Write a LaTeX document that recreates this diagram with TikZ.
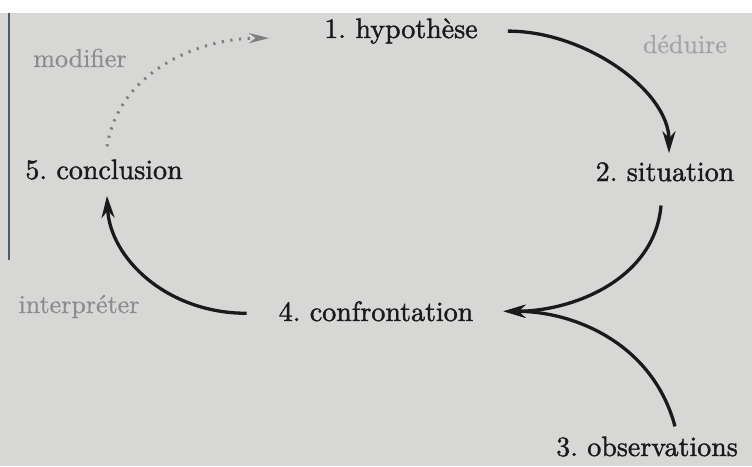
\documentclass[tikz,border=0pt]{standalone}
\usepackage{fontspec}
\usetikzlibrary{arrows.meta}
\newfontfamily\stagefont{lmroman10-regular.otf}[FakeBold=1.4]
\newfontfamily\verbfont{lmroman10-regular.otf}[FakeBold=0.6]
\definecolor{paper}{HTML}{D7D7D5}
\definecolor{ink}{HTML}{1A1A1A}
\definecolor{soft}{HTML}{8C8C8C}
\definecolor{softer}{HTML}{A3A3A3}
\definecolor{dotgrey}{HTML}{7E7E7E}
\definecolor{edge}{HTML}{4E5B6E}
\begin{document}
\frenchspacing
\begin{tikzpicture}[x=1pt,y=-1pt,
  stage/.style={inner sep=0pt,text=ink,font=\stagefont\fontsize{28}{32}\selectfont},
  verb/.style={inner sep=0pt,text=soft,font=\verbfont\fontsize{26}{30}\selectfont},
  flow/.style={draw=ink,line width=3.3pt,-{Stealth[length=22pt,width=13pt]}},
  dotflow/.style={draw=dotgrey,line width=3pt,dash pattern=on 2.2pt off 6.5pt,
    -{Stealth[length=20pt,width=10pt]}}]
\useasboundingbox (0,0) rectangle (752,466);
\fill[white] (0,0) rectangle (752,466);
\fill[paper] (0,13) rectangle (752,466);
\draw[edge,line width=1.2pt] (9,13) -- (9,260);
% stages
\node[stage,anchor=base] (hyp) at (401,38) {1. hypothèse};
\node[stage,anchor=base] (sit) at (665,181) {2. situation};
\node[stage,anchor=base west] (obs) at (556,456) {3. observations};
\node[stage,anchor=base] (conf) at (376,321) {4. confrontation};
\node[stage,anchor=base] (concl) at (104,179) {5. conclusion};
% verbs
\node[verb,anchor=base] (mod) at (80,67) {modifier};
\node[verb,anchor=base,text=softer] (ded) at (685,53) {déduire};
\node[verb,anchor=base] (int) at (79,313) {interpréter};
% anchors for connectors
\coordinate (a1s) at ([xshift=30pt,yshift=0pt]hyp.east);
\coordinate (a1e) at ([xshift=4pt,yshift=9pt]sit.north);
\coordinate (a2s) at ([xshift=-4pt,yshift=-24pt]sit.south);
\coordinate (merge) at ([xshift=30pt,yshift=0pt]conf.east);
\coordinate (a3s) at ([xshift=28pt,yshift=10pt]obs.north);
\coordinate (a4s) at ([xshift=-32pt,yshift=-2pt]conf.west);
\coordinate (a4e) at ([xshift=3pt,yshift=-16pt]concl.south);
\coordinate (a5s) at ([xshift=3pt,yshift=13pt]concl.north);
\coordinate (a5e) at ([xshift=-55pt,yshift=-7pt]hyp.west);
% connectors
\draw[flow] (a1s) .. controls +(78,0) and +(0,-62) .. (a1e);
\draw[flow] (a2s) .. controls +(-6,72) and +(72,0) .. (merge);
\draw[flow] (a3s) .. controls +(-22,-82) and +(72,0) .. (merge);
\draw[flow] (a4s) .. controls +(-80,0) and +(3,62) .. (a4e);
\draw[dotflow] (a5s) .. controls +(12,-75) and +(-70,0) .. (a5e);
\end{tikzpicture}
\end{document}
